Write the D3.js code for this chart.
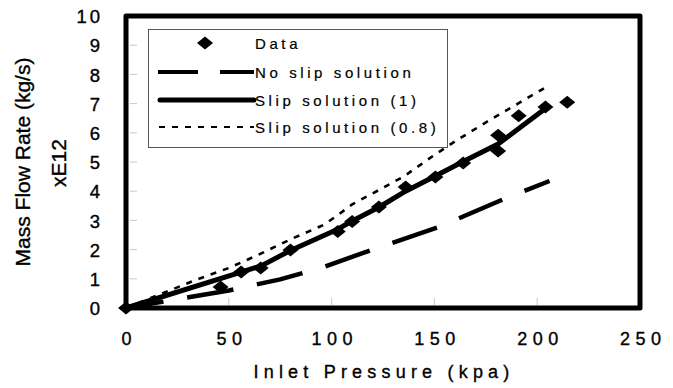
<!DOCTYPE html>
<html><head><meta charset="utf-8">
<script src="https://cdn.jsdelivr.net/npm/d3@7"></script>
<style>
body{margin:0;background:#fff;}
svg{display:block;font-family:"Liberation Sans",Arial,sans-serif;}
text{fill:#000;stroke:#000;stroke-width:0.35px;}
</style></head>
<body><svg id="c" width="673" height="388"></svg>
<script>
// ---- data ----
const xTicks = [0, 50, 100, 150, 200, 250];
const yTicks = [0, 1, 2, 3, 4, 5, 6, 7, 8, 9, 10];
const dataP = [0, 46, 56, 65.5, 80, 103, 110, 123, 136, 150.5, 164, 181, 181, 191, 204, 214.6];
const dataM = [0, 0.72, 1.23, 1.37, 1.99, 2.62, 2.96, 3.46, 4.14, 4.49, 4.97, 5.38, 5.92, 6.58, 6.88, 7.05];
const noSlipP = [0, 50, 75, 96, 119, 152, 185, 206];
const noSlipM = [0, 0.6, 0.98, 1.4, 1.98, 2.77, 3.77, 4.35];
const slip1P = [0, 56, 66, 80, 103, 110, 123, 136, 150, 165, 181, 192, 205];
const slip1M = [0, 1.23, 1.45, 1.97, 2.7, 2.98, 3.45, 4.0, 4.5, 5.05, 5.62, 6.2, 6.88];
const slip08P = [0, 35, 50, 64, 80, 96, 103, 110, 123, 135, 150, 161, 177, 204];
const slip08M = [0, 0.99, 1.37, 1.81, 2.35, 2.84, 3.18, 3.55, 4.04, 4.5, 5.24, 5.75, 6.44, 7.55];
const legendLabels = ["Data", "No slip solution", "Slip solution (1)", "Slip solution (0.8)"];
const xTitle = "Inlet Pressure (kpa)";
const yTitle = "Mass Flow Rate (kg/s)";
const yUnit = "xE12";

const svg = d3.select("#c");
const x = d3.scaleLinear().domain([0, 250]).range([126, 640]);
const y = d3.scaleLinear().domain([0, 10]).range([308, 16]);

// faint inner ticks
svg.append("g").selectAll("line").data(yTicks.slice(1, -1)).join("line")
  .attr("x1", 130).attr("x2", 137).attr("y1", d => y(d)).attr("y2", d => y(d))
  .attr("stroke", "#c8c8c8").attr("stroke-width", 1);
svg.append("g").selectAll("line").data(xTicks.slice(1, -1)).join("line")
  .attr("x1", d => x(d)).attr("x2", d => x(d)).attr("y1", 298).attr("y2", 305)
  .attr("stroke", "#c8c8c8").attr("stroke-width", 1);

// axes labels
const xAxis = svg.append("g").attr("transform", "translate(0,308)")
  .call(d3.axisBottom(x).tickValues(xTicks).tickSize(0).tickPadding(24).tickFormat(d3.format("d")));
xAxis.select(".domain").remove();
xAxis.selectAll("text").attr("font-size", 18).attr("font-family", "Liberation Sans, Arial")
  .attr("fill", "#000").style("letter-spacing", "5.5px").attr("dx", "2.7px");

const yAxis = svg.append("g").attr("transform", "translate(126,0)")
  .call(d3.axisLeft(y).tickValues(yTicks).tickSize(0).tickPadding(26).tickFormat(d3.format("d")));
yAxis.select(".domain").remove();
yAxis.selectAll("text").attr("font-size", 18.5).attr("font-family", "Liberation Sans, Arial")
  .attr("fill", "#000").style("letter-spacing", "3px").attr("dx", "3px").attr("dy", "0.36em");

// titles
svg.append("text").attr("x", 384).attr("y", 378).attr("text-anchor", "middle")
  .attr("font-size", 18).style("letter-spacing", "5.2px").text(xTitle);
svg.append("text").attr("transform", "translate(30,162) rotate(-90)").attr("text-anchor", "middle")
  .attr("font-size", 21).text(yTitle);
svg.append("text").attr("transform", "translate(66,163) rotate(-90)").attr("text-anchor", "middle")
  .attr("font-size", 21).text(yUnit);

// series lines
const line = d3.line().x(d => x(d[0])).y(d => y(d[1]));
const zip = (a, b) => a.map((v, i) => [v, b[i]]);
svg.append("path").datum(zip(slip08P, slip08M)).attr("d", line).attr("fill", "none")
  .attr("stroke", "#000").attr("stroke-width", 2.6).attr("stroke-dasharray", "6,7");
svg.append("path").datum(zip(noSlipP, noSlipM)).attr("d", line).attr("fill", "none")
  .attr("stroke", "#000").attr("stroke-width", 4.5).attr("stroke-dasharray", "47,24")
  .attr("stroke-dashoffset", 9);
svg.append("path").datum(zip(slip1P, slip1M)).attr("d", line).attr("fill", "none")
  .attr("stroke", "#000").attr("stroke-width", 5).attr("stroke-linejoin", "round");

// diamonds
const diamond = "M0,-6.5L8,0L0,6.5L-8,0Z";
svg.append("g").selectAll("path").data(zip(dataP, dataM)).join("path")
  .attr("d", diamond).attr("transform", d => `translate(${x(d[0])},${y(d[1])})`).attr("fill", "#000");

// frame
svg.append("rect").attr("x", 126).attr("y", 16).attr("width", 514).attr("height", 292)
  .attr("fill", "none").attr("stroke", "#000").attr("stroke-width", 5).attr("stroke-linejoin", "round");

// legend
const lg = svg.append("g");
lg.append("rect").attr("x", 148.5).attr("y", 29.5).attr("width", 299).attr("height", 118)
  .attr("fill", "#fff").attr("stroke", "#555").attr("stroke-width", 1);
const rowY = [43, 72, 100, 127];
lg.append("path").attr("d", diamond).attr("transform", `translate(205,${rowY[0]})`);
lg.append("line").attr("x1", 158).attr("x2", 254).attr("y1", rowY[1]).attr("y2", rowY[1])
  .attr("stroke", "#000").attr("stroke-width", 4).attr("stroke-dasharray", "40,22,40");
lg.append("line").attr("x1", 160).attr("x2", 254).attr("y1", rowY[2]).attr("y2", rowY[2])
  .attr("stroke", "#000").attr("stroke-width", 5).attr("stroke-linecap", "round");
lg.append("line").attr("x1", 159).attr("x2", 254).attr("y1", rowY[3]).attr("y2", rowY[3])
  .attr("stroke", "#000").attr("stroke-width", 2).attr("stroke-dasharray", "6,7");
lg.selectAll("text").data(legendLabels).join("text")
  .attr("x", 255).attr("y", (d, i) => rowY[i] + 5.5).attr("font-size", 15)
  .style("letter-spacing", "3.6px").style("stroke-width", "0.2px").text(d => d);
</script></body></html>
